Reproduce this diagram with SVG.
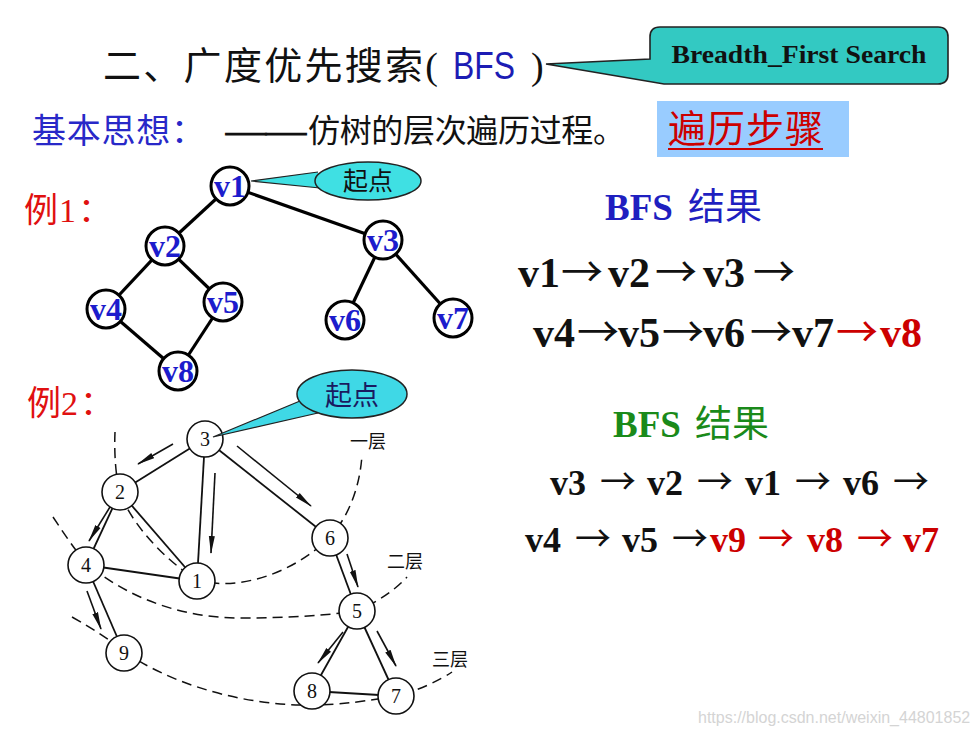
<svg xmlns="http://www.w3.org/2000/svg" width="979" height="735" viewBox="0 0 979 735">
<style>
.cjk{font-family:"Liberation Serif","Noto Sans CJK SC",serif}
.b{font-weight:bold}
.n1 circle{fill:#fff;stroke:#000;stroke-width:3}
.n1 text{font-family:"Liberation Serif",serif;font-weight:bold;font-size:32px;fill:#1c1ccc;text-anchor:middle}
.n2 circle{fill:#fff;stroke:#111;stroke-width:1.6}
.n2 text{font-family:"Liberation Serif",serif;font-size:20px;fill:#111;text-anchor:middle}
.e1{stroke:#000;stroke-width:3.2;fill:none}
.e2{stroke:#111;stroke-width:1.8;fill:none}
.ar{stroke:#111;stroke-width:1.6;fill:none;marker-end:url(#ah)}
.dash{stroke:#111;stroke-width:1.5;fill:none;stroke-dasharray:10 6}
.res{font-family:"Liberation Serif","Noto Sans CJK SC",serif;font-weight:bold}
.arw{font-family:"Noto Sans CJK SC",sans-serif;font-weight:normal}
</style>
<defs>
<marker id="ah" markerUnits="userSpaceOnUse" markerWidth="18" markerHeight="8" refX="17" refY="4" orient="auto">
<path d="M0,1 L18,4 L0,7 Z" fill="#111"/>
</marker>
</defs>
<rect width="979" height="735" fill="#fff"/>

<!-- title -->
<g id="title">
<text class="cjk" x="103" y="79" font-size="38" textLength="335" fill="#111">二、广度优先搜索(</text>
<text x="453" y="79" font-family="Liberation Sans,sans-serif" font-size="38" textLength="62" lengthAdjust="spacingAndGlyphs" fill="#1c1cb4">BFS</text>
<text x="531" y="79" font-family="Liberation Serif,serif" font-size="38" fill="#111">)</text>
</g>

<g id="callout-bfs">
<path d="M660,27 H938 Q948,27 948,37 V74 Q948,84 938,84 H664 L546,64 L650,59 V37 Q650,27 660,27 Z" fill="#33C9C2" stroke="#222" stroke-width="1.6"/>
<text x="799" y="63" class="b" font-family="Liberation Serif,serif" font-size="25" text-anchor="middle" textLength="255" lengthAdjust="spacingAndGlyphs" fill="#111">Breadth_First Search</text>
</g>

<g id="idea">
<text class="cjk" x="32" y="143" font-size="34" textLength="173" fill="#2828c8">基本思想：</text>
<text class="cjk" x="226" y="142" font-size="32" textLength="80" lengthAdjust="spacingAndGlyphs" fill="#111" stroke="#111" stroke-width="1.2">——</text>
<text class="cjk" x="308" y="142" font-size="32" textLength="317" fill="#111">仿树的层次遍历过程。</text>
</g>

<g id="steps">
<rect x="657" y="101" width="192" height="56" fill="#99CCFF"/>
<text class="cjk" x="668" y="142" font-size="38" textLength="155" fill="#cc0000">遍历步骤</text>
<line x1="668" y1="149" x2="823" y2="149" stroke="#cc0000" stroke-width="2"/>
</g>

<!-- example 1 -->
<text id="ex1-label" class="cjk" y="222" font-size="34" fill="#e01010"><tspan x="24">例</tspan><tspan x="59">1</tspan><tspan x="78">：</tspan></text>

<g id="ex1-connectors">
<line class="e1" x1="230" y1="186" x2="165" y2="246"/>
<line class="e1" x1="230" y1="186" x2="383" y2="240"/>
<line class="e1" x1="165" y1="246" x2="106" y2="309"/>
<line class="e1" x1="165" y1="246" x2="223" y2="302"/>
<line class="e1" x1="383" y1="240" x2="345" y2="320"/>
<line class="e1" x1="383" y1="240" x2="453" y2="318"/>
<line class="e1" x1="106" y1="309" x2="178" y2="371"/>
<line class="e1" x1="223" y1="302" x2="178" y2="371"/>
</g>

<g id="ex1-v1" class="n1"><circle cx="230" cy="186" r="19"/><text x="230" y="197">v1</text></g>
<g id="ex1-v2" class="n1"><circle cx="165" cy="246" r="19"/><text x="165" y="257">v2</text></g>
<g id="ex1-v3" class="n1"><circle cx="383" cy="240" r="19"/><text x="383" y="251">v3</text></g>
<g id="ex1-v4" class="n1"><circle cx="106" cy="309" r="19"/><text x="106" y="320">v4</text></g>
<g id="ex1-v5" class="n1"><circle cx="223" cy="302" r="19"/><text x="223" y="313">v5</text></g>
<g id="ex1-v6" class="n1"><circle cx="345" cy="320" r="19"/><text x="345" y="331">v6</text></g>
<g id="ex1-v7" class="n1"><circle cx="453" cy="318" r="19"/><text x="453" y="329">v7</text></g>
<g id="ex1-v8" class="n1"><circle cx="178" cy="371" r="19"/><text x="178" y="382">v8</text></g>

<g id="ex1-start">
<path d="M318,172 L251,181 L320,188" fill="#3FE0E3" stroke="#222" stroke-width="1.2"/>
<ellipse cx="368" cy="181" rx="53" ry="19" fill="#3FE0E3" stroke="#222" stroke-width="1.5"/>
<text class="cjk" x="368" y="190" font-size="25" text-anchor="middle" fill="#111">起点</text>
</g>

<!-- example 2 -->
<text id="ex2-label" class="cjk" y="415" font-size="34" fill="#e01010"><tspan x="27">例</tspan><tspan x="61">2</tspan><tspan x="80">：</tspan></text>

<g id="ex2-layers">
<path class="dash" d="M115,432 C114,455 116,478 120,493 C132,525 165,560 197,580 C240,592 295,572 330,537 C350,515 360,485 362,455"/>
<path class="dash" d="M53,517 C65,535 75,550 86,563 C130,600 185,618 240,618 C290,618 330,615 358,611 C380,600 395,590 407,577"/>
<path class="dash" d="M72,617 C95,630 110,640 125,652 C165,680 230,703 300,705 C340,706 370,700 397,696 C420,690 440,680 452,672"/>
</g>

<g id="ex2-connectors">
<line class="e2" x1="205" y1="439" x2="120" y2="492"/>
<line class="e2" x1="205" y1="439" x2="197" y2="581"/>
<line class="e2" x1="205" y1="439" x2="330" y2="538"/>
<line class="e2" x1="120" y1="492" x2="86" y2="565"/>
<line class="e2" x1="120" y1="492" x2="197" y2="581"/>
<line class="e2" x1="86" y1="565" x2="197" y2="581"/>
<line class="e2" x1="86" y1="565" x2="124" y2="653"/>
<line class="e2" x1="330" y1="538" x2="357" y2="611"/>
<line class="e2" x1="357" y1="611" x2="312" y2="691"/>
<line class="e2" x1="357" y1="611" x2="396" y2="696"/>
<line class="e2" x1="312" y1="691" x2="396" y2="696"/>
<line class="ar" x1="173" y1="444" x2="138" y2="464"/>
<line class="ar" x1="215" y1="473" x2="211" y2="553"/>
<line class="ar" x1="237" y1="446" x2="311" y2="506"/>
<line class="ar" x1="110" y1="507" x2="89" y2="541"/>
<line class="ar" x1="87" y1="591" x2="101" y2="629"/>
<line class="ar" x1="347" y1="554" x2="358" y2="587"/>
<line class="ar" x1="343" y1="632" x2="318" y2="663"/>
<line class="ar" x1="377" y1="631" x2="396" y2="666"/>
</g>

<g id="ex2-n3" class="n2"><circle cx="205" cy="439" r="18"/><text x="205" y="446">3</text></g>
<g id="ex2-n2" class="n2"><circle cx="120" cy="492" r="18"/><text x="120" y="499">2</text></g>
<g id="ex2-n6" class="n2"><circle cx="330" cy="538" r="18"/><text x="330" y="545">6</text></g>
<g id="ex2-n4" class="n2"><circle cx="86" cy="565" r="18"/><text x="86" y="572">4</text></g>
<g id="ex2-n1" class="n2"><circle cx="197" cy="581" r="18"/><text x="197" y="588">1</text></g>
<g id="ex2-n5" class="n2"><circle cx="357" cy="611" r="18"/><text x="357" y="618">5</text></g>
<g id="ex2-n9" class="n2"><circle cx="124" cy="653" r="18"/><text x="124" y="660">9</text></g>
<g id="ex2-n8" class="n2"><circle cx="312" cy="691" r="18"/><text x="312" y="698">8</text></g>
<g id="ex2-n7" class="n2"><circle cx="396" cy="696" r="18"/><text x="396" y="703">7</text></g>

<g id="ex2-start">
<path d="M300,401 L213,437 L318,413" fill="#3FD8E6" stroke="#222" stroke-width="1.2"/>
<ellipse cx="352" cy="394" rx="55" ry="24" fill="#3FD8E6" stroke="#222" stroke-width="1.5"/>
<text class="cjk" x="352" y="405" font-size="27" text-anchor="middle" fill="#1a1a60">起点</text>
</g>

<g id="ex2-layer-labels" class="cjk" font-size="18" fill="#111">
<text x="350" y="448">一层</text>
<text x="387" y="568">二层</text>
<text x="432" y="666">三层</text>
</g>

<!-- results -->
<g id="result1">
<text x="605" y="220" class="res" font-size="37" fill="#1f1fc0">BFS</text>
<text x="688" y="220" class="cjk" font-size="37" fill="#1f1fc0">结果</text>
<text class="res" font-size="42" y="287" fill="#111"><tspan x="518">v1</tspan><tspan class="arw" x="561">→</tspan><tspan x="608">v2</tspan><tspan class="arw" x="655">→</tspan><tspan x="703">v3</tspan><tspan class="arw" x="753">→</tspan></text>
<text class="res" font-size="42" y="347" fill="#111"><tspan x="533">v4</tspan><tspan class="arw" x="577">→</tspan><tspan x="618">v5</tspan><tspan class="arw" x="662">→</tspan><tspan x="703">v6</tspan><tspan class="arw" x="750">→</tspan><tspan x="792">v7</tspan><tspan class="arw" x="836" fill="#cc0000">→</tspan><tspan x="880" fill="#cc0000">v8</tspan></text>
</g>

<g id="result2">
<text x="613" y="437" class="res" font-size="37" fill="#1a8a1a">BFS</text>
<text x="695" y="437" class="cjk" font-size="37" fill="#1a8a1a">结果</text>
<text class="res" font-size="36" y="495" fill="#111"><tspan x="550">v3</tspan><tspan class="arw" x="600">→</tspan><tspan x="647">v2</tspan><tspan class="arw" x="697">→</tspan><tspan x="745">v1</tspan><tspan class="arw" x="795">→</tspan><tspan x="843">v6</tspan><tspan class="arw" x="893">→</tspan></text>
<text class="res" font-size="36" y="552" fill="#111"><tspan x="525">v4</tspan><tspan class="arw" x="575">→</tspan><tspan x="622">v5</tspan><tspan class="arw" x="672">→</tspan><tspan x="710" fill="#cc0000">v9</tspan><tspan class="arw" x="758" fill="#cc0000">→</tspan><tspan x="807" fill="#cc0000">v8</tspan><tspan class="arw" x="857" fill="#cc0000">→</tspan><tspan x="903" fill="#cc0000">v7</tspan></text>
</g>

<text id="watermark" x="698" y="723" font-family="Liberation Sans,sans-serif" font-size="16" fill="#d4d4d4">https://blog.csdn.net/weixin_44801852</text>
</svg>
